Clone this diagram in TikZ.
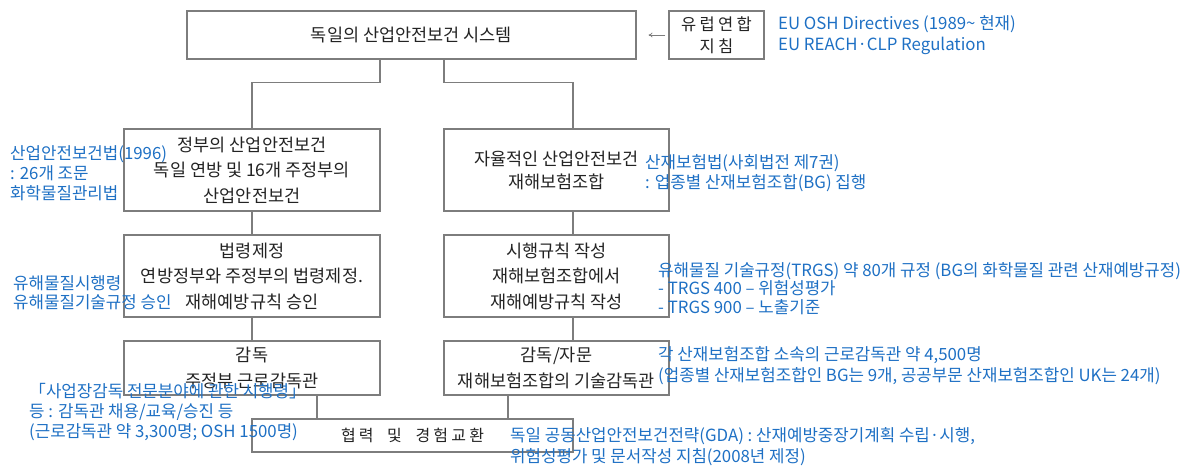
\documentclass[tikz,border=0pt]{standalone}
\usepackage{fontspec}
\setmainfont{Noto Sans CJK KR}
\newfontfamily\boxfont[WordSpace=2.0]{Noto Sans CJK KR}
\newfontfamily\spacedfont[LetterSpace=20,WordSpace=2.0]{Noto Sans CJK KR}
\newfontfamily\bluefont{Noto Sans CJK KR}
\usetikzlibrary{arrows.meta}
\definecolor{noteblue}{RGB}{30,112,196}
\definecolor{boxline}{RGB}{125,125,125}
\definecolor{boxtext}{RGB}{35,35,35}
\tikzset{
  box/.style={draw=boxline, line width=1.1pt, text=boxtext, font=\boxfont\fontsize{17.5}{25.5}\selectfont, align=center, inner sep=0pt},
  link/.style={draw=boxline, line width=1.1pt},
  note/.style={text=noteblue, font=\bluefont\fontsize{16.8}{20}\selectfont, align=left, anchor=west, inner sep=0pt},
}
\begin{document}
\begin{tikzpicture}[x=1pt,y=-1pt]
\useasboundingbox (0,0) rectangle (1191,468);
% boxes
\node[box, minimum width=449pt, minimum height=48pt] (sys) at (411.5,35) {독일의 산업안전보건 시스템};
\node[box, minimum width=95pt, minimum height=48pt, font=\spacedfont\fontsize{16.5}{22}\selectfont] (eu) at (716.5,35) {유럽연합\\지침};
\node[box, minimum width=256pt, minimum height=82pt] (gov) at (252,170) {정부의 산업안전보건\\독일 연방 및 16개 주정부의\\산업안전보건};
\node[box, minimum width=225pt, minimum height=82pt, font=\boxfont\fontsize{17.5}{23}\selectfont] (auto) at (556.5,170) {자율적인 산업안전보건\\재해보험조합};
\node[box, minimum width=256pt, minimum height=82pt] (law) at (252,276) {법령제정\\연방정부와 주정부의 법령제정.\\재해예방규칙 승인};
\node[box, minimum width=225pt, minimum height=82pt] (rule) at (556.5,276) {시행규칙 작성\\재해보험조합에서\\재해예방규칙 작성};
\node[box, minimum width=256pt, minimum height=54pt] (insp) at (252,368) {감독\\주정부 근로감독관};
\node[box, minimum width=225pt, minimum height=54pt] (adv) at (556.5,368) {감독/자문\\재해보험조합의 기술감독관};
\node[box, minimum width=321pt, minimum height=33pt, font=\spacedfont\fontsize{16}{20}\selectfont] (coop) at (412.5,435.5) {협력 및 경험교환};
% connectors
\draw[boxline, line width=0.8pt, -{To[length=4pt,width=5pt]}] ([xshift=-3pt]eu.west) -- ([xshift=12pt]sys.east);
\draw[link] ([xshift=-31.5pt]sys.south) -- ++(0,23) -| (gov.north);
\draw[link] ([xshift=32.5pt]sys.south) -- ++(0,23) -| ([xshift=16.5pt]auto.north);
\draw[link] (gov.south) -- (law.north);
\draw[link] ([xshift=16.5pt]auto.south) -- ([xshift=16.5pt]rule.north);
\draw[link] (law.south) -- (insp.north);
\draw[link] ([xshift=16.5pt]rule.south) -- ([xshift=16.5pt]adv.north);
\draw[link] ([xshift=65pt]insp.south) -- ([xshift=65pt]insp.south |- coop.north);
\draw[link] ([xshift=-48.5pt]adv.south) -- ([xshift=-48.5pt]adv.south |- coop.north);
% notes
\node[note, font=\bluefont\fontsize{16.8}{21}\selectfont] (n1) at (778,35.5) {EU OSH Directives (1989\textasciitilde{} 현재)\\EU REACH·CLP Regulation};
\node[note] (n2) at (10,173) {산업안전보건법(1996)\\: 26개 조문\\화학물질관리법};
\node[note] (n3) at (645,173) {산재보험법(사회법전 제7권)\\: 업종별 산재보험조합(BG) 집행};
\node[note, font=\bluefont\fontsize{16.8}{19.5}\selectfont] (n4) at (13,292.5) {유해물질시행령\\유해물질기술규정 승인};
\node[note, font=\bluefont\fontsize{16.8}{18.5}\selectfont] (n5) at (658,288.5) {유해물질 기술규정(TRGS) 약 80개 규정 (BG의 화학물질 관련 산재예방규정)\\- TRGS 400 – 위험성평가\\- TRGS 900 – 노출기준};
\node[note] (n6) at (29,412) {「사업장감독 전문분야에 관한 시행령」\\등 : 감독관 채용/교육/승진 등\\(근로감독관 약 3,300명; OSH 1500명)};
\node[note, font=\bluefont\fontsize{16.8}{21}\selectfont] (n7) at (658,365.5) {각 산재보험조합 소속의 근로감독관 약 4,500명\\(업종별 산재보험조합인 BG는 9개, 공공부문 산재보험조합인 UK는 24개)};
\node[note, font=\bluefont\fontsize{16.8}{21}\selectfont] (n8) at (510,446.5) {독일 공동산업안전보건전략(GDA) : 산재예방중장기계획 수립·시행,\\위험성평가 및 문서작성 지침(2008년 제정)};
\end{tikzpicture}
\end{document}
